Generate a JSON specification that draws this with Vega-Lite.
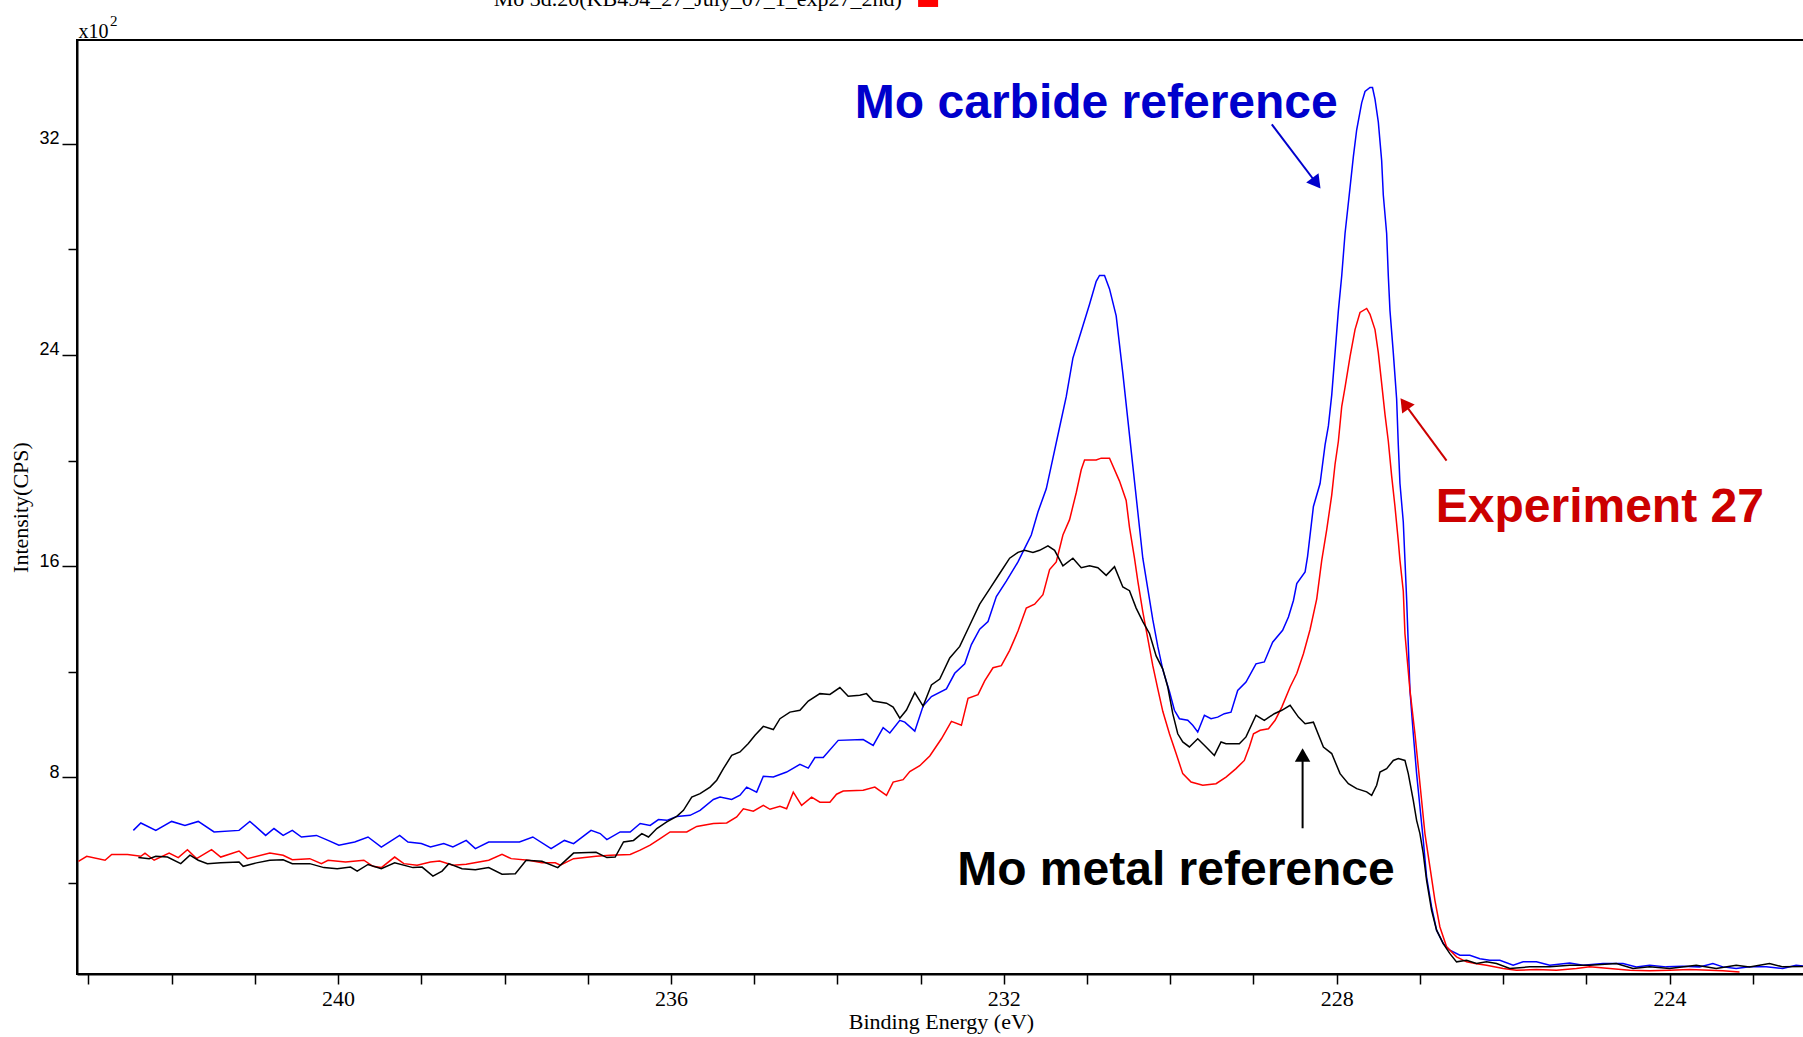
{
"$schema": "https://vega.github.io/schema/vega-lite/v6.json",
"width": 1728, "height": 934,
"autosize": {"type": "none"},
"padding": {"left": 77, "top": 40, "right": 0, "bottom": 63},
"background": "white",
"config": {
 "view": {"stroke": "black", "strokeWidth": 2},
 "axis": {"grid": false, "domainColor": "black", "domainWidth": 2, "tickColor": "black", "tickWidth": 1.5, "labelColor": "black", "titleColor": "black"}
},
"datasets": {
"carbide": [[242.46,5.99],[242.37,6.27],[242.19,5.99],[242.00,6.33],[241.84,6.18],[241.68,6.33],[241.49,5.93],[241.19,5.99],[241.06,6.33],[240.87,5.80],[240.77,6.06],[240.66,5.80],[240.55,5.99],[240.44,5.74],[240.26,5.80],[240.12,5.61],[239.99,5.43],[239.80,5.55],[239.64,5.74],[239.48,5.36],[239.26,5.80],[239.16,5.55],[239.00,5.49],[238.89,5.36],[238.73,5.49],[238.62,5.36],[238.46,5.61],[238.35,5.30],[238.19,5.55],[237.98,5.55],[237.82,5.55],[237.66,5.74],[237.44,5.30],[237.28,5.61],[237.17,5.49],[236.96,5.99],[236.85,5.87],[236.77,5.64],[236.61,5.93],[236.49,5.93],[236.37,6.25],[236.25,6.18],[236.15,6.40],[236.05,6.37],[235.93,6.52],[235.77,6.56],[235.65,6.75],[235.49,7.16],[235.41,7.25],[235.27,7.16],[235.17,7.32],[235.09,7.63],[234.97,7.44],[234.89,8.04],[234.77,8.01],[234.61,8.20],[234.45,8.49],[234.35,8.35],[234.27,8.75],[234.17,8.75],[233.99,9.40],[233.69,9.43],[233.57,9.21],[233.45,9.88],[233.37,9.68],[233.25,10.16],[233.19,10.09],[233.07,9.75],[232.97,10.70],[232.87,11.06],[232.69,11.35],[232.59,11.94],[232.47,12.30],[232.39,13.03],[232.29,13.61],[232.19,13.90],[232.09,14.85],[231.97,15.43],[231.83,16.16],[231.75,16.67],[231.67,17.18],[231.59,18.05],[231.49,18.93],[231.41,20.09],[231.33,21.26],[231.25,22.42],[231.17,23.88],[231.07,24.90],[230.97,25.92],[230.89,26.79],[230.85,27.01],[230.79,27.01],[230.73,26.50],[230.65,25.48],[230.57,23.30],[230.51,21.55],[230.45,19.80],[230.39,18.05],[230.33,16.30],[230.27,15.14],[230.21,13.97],[230.15,12.96],[230.09,12.08],[230.01,11.25],[229.95,10.54],[229.89,10.22],[229.79,10.16],[229.73,9.97],[229.67,9.72],[229.59,10.35],[229.51,10.22],[229.43,10.28],[229.35,10.41],[229.27,10.47],[229.19,11.29],[229.09,11.61],[228.97,12.30],[228.87,12.37],[228.77,13.12],[228.65,13.57],[228.58,14.07],[228.52,14.70],[228.48,15.34],[228.38,15.78],[228.35,16.37],[228.28,18.26],[228.20,19.13],[228.14,20.59],[228.10,21.31],[228.06,22.48],[228.02,24.08],[227.98,25.68],[227.94,26.99],[227.90,28.60],[227.84,30.34],[227.80,31.51],[227.76,32.53],[227.70,33.55],[227.66,33.98],[227.60,34.13],[227.57,34.13],[227.54,33.69],[227.50,32.82],[227.46,31.36],[227.44,30.05],[227.40,28.60],[227.38,26.99],[227.36,25.68],[227.32,24.08],[227.28,22.33],[227.26,20.59],[227.24,19.13],[227.20,17.67],[227.18,16.22],[227.16,14.76],[227.12,11.30],[227.08,9.65],[227.04,8.14],[227.00,6.88],[226.96,5.62],[226.92,4.23],[226.86,3.09],[226.80,2.21],[226.72,1.70],[226.64,1.45],[226.52,1.26],[226.40,1.26],[226.28,1.13],[226.16,1.07],[226.04,1.07],[225.88,0.88],[225.76,1.01],[225.60,1.01],[225.44,0.88],[225.20,0.97],[225.04,0.88],[224.80,0.95],[224.56,0.95],[224.40,0.82],[224.24,0.88],[224.04,0.82],[223.84,0.84],[223.64,0.82],[223.48,0.95],[223.36,0.82],[223.20,0.76],[223.04,0.82],[222.84,0.82],[222.64,0.76],[222.48,0.88],[222.37,0.84]],
"exp27": [[243.12,4.82],[243.02,5.01],[242.80,4.86],[242.72,5.08],[242.53,5.08],[242.37,5.01],[242.32,5.13],[242.21,4.86],[242.03,5.13],[241.92,4.96],[241.81,5.26],[241.70,4.92],[241.52,5.26],[241.41,4.98],[241.19,5.21],[241.09,4.92],[240.82,5.13],[240.66,5.05],[240.55,4.88],[240.34,4.92],[240.20,4.73],[240.12,4.86],[239.91,4.79],[239.69,4.86],[239.58,4.63],[239.48,4.58],[239.32,4.98],[239.21,4.73],[239.05,4.67],[238.89,4.79],[238.78,4.83],[238.62,4.67],[238.46,4.71],[238.19,4.86],[238.03,5.08],[237.92,4.92],[237.71,4.86],[237.55,4.76],[237.39,4.76],[237.33,4.67],[237.17,4.92],[236.90,5.01],[236.73,5.05],[236.49,5.08],[236.37,5.24],[236.25,5.43],[236.13,5.68],[236.01,5.93],[235.81,5.93],[235.69,6.14],[235.49,6.25],[235.33,6.27],[235.21,6.50],[235.13,6.81],[235.01,6.72],[234.89,6.94],[234.81,6.79],[234.69,6.90],[234.61,6.81],[234.53,7.44],[234.43,6.94],[234.31,7.25],[234.21,7.06],[234.09,7.06],[234.01,7.36],[233.93,7.48],[233.69,7.51],[233.55,7.63],[233.41,7.32],[233.33,7.82],[233.21,7.91],[233.13,8.22],[233.01,8.44],[232.89,8.81],[232.75,9.46],[232.63,10.12],[232.51,9.97],[232.43,10.99],[232.31,11.13],[232.23,11.65],[232.13,12.15],[232.03,12.23],[231.93,12.81],[231.83,13.54],[231.73,14.41],[231.63,14.56],[231.53,14.92],[231.45,15.87],[231.37,16.16],[231.29,17.18],[231.21,17.76],[231.13,18.78],[231.07,19.65],[231.03,20.02],[230.89,20.02],[230.83,20.09],[230.73,20.09],[230.61,19.22],[230.53,18.49],[230.49,17.47],[230.43,16.30],[230.39,15.43],[230.33,14.27],[230.27,13.25],[230.21,12.23],[230.15,11.35],[230.09,10.50],[230.01,9.65],[229.93,8.90],[229.85,8.14],[229.75,7.82],[229.61,7.70],[229.45,7.76],[229.33,8.01],[229.21,8.33],[229.11,8.64],[229.05,9.15],[229.00,9.65],[228.92,9.78],[228.82,9.84],[228.74,10.16],[228.66,10.66],[228.56,11.42],[228.48,11.93],[228.40,12.68],[228.32,13.60],[228.24,14.76],[228.18,16.22],[228.12,17.38],[228.06,18.69],[228.02,19.86],[227.98,20.73],[227.94,22.04],[227.90,22.77],[227.84,23.94],[227.78,24.96],[227.72,25.61],[227.64,25.76],[227.60,25.54],[227.54,24.96],[227.50,24.08],[227.46,22.92],[227.42,21.75],[227.38,20.73],[227.34,19.42],[227.30,18.26],[227.26,16.95],[227.24,16.22],[227.20,15.05],[227.18,13.44],[227.12,11.30],[227.06,9.65],[227.02,8.39],[226.98,7.13],[226.94,5.87],[226.88,4.61],[226.82,3.34],[226.76,2.33],[226.68,1.58],[226.56,1.20],[226.44,1.01],[226.32,0.94],[226.20,0.88],[226.00,0.76],[225.84,0.69],[225.60,0.72],[225.36,0.69],[225.12,0.76],[224.96,0.82],[224.72,0.76],[224.48,0.69],[224.24,0.67],[224.00,0.69],[223.76,0.72],[223.52,0.69],[223.36,0.67],[223.16,0.63]],
"metal": [[242.40,4.96],[242.27,4.92],[242.19,5.01],[242.05,4.98],[241.89,4.73],[241.78,5.05],[241.68,4.86],[241.57,4.73],[241.41,4.76],[241.19,4.79],[241.14,4.63],[240.98,4.76],[240.82,4.86],[240.66,4.88],[240.55,4.73],[240.34,4.73],[240.17,4.58],[240.01,4.54],[239.85,4.60],[239.77,4.45],[239.64,4.70],[239.48,4.54],[239.32,4.76],[239.10,4.58],[238.99,4.60],[238.86,4.26],[238.75,4.45],[238.67,4.73],[238.51,4.54],[238.35,4.50],[238.19,4.58],[238.03,4.33],[237.87,4.35],[237.74,4.86],[237.55,4.82],[237.36,4.58],[237.17,5.13],[236.90,5.16],[236.77,4.96],[236.67,4.98],[236.57,5.55],[236.45,5.61],[236.35,5.87],[236.27,5.74],[236.17,6.06],[236.05,6.31],[235.93,6.52],[235.85,6.75],[235.75,7.25],[235.65,7.38],[235.53,7.63],[235.45,7.89],[235.37,8.33],[235.27,8.83],[235.17,8.96],[235.07,9.28],[234.99,9.59],[234.89,9.93],[234.77,9.81],[234.69,10.22],[234.57,10.47],[234.45,10.54],[234.35,10.89],[234.21,11.17],[234.09,11.14],[233.97,11.40],[233.87,11.07],[233.73,11.11],[233.65,11.17],[233.57,10.89],[233.41,10.81],[233.33,10.66],[233.25,10.24],[233.17,10.55],[233.07,11.21],[232.97,10.70],[232.87,11.50],[232.77,11.72],[232.65,12.52],[232.53,12.96],[232.41,13.76],[232.29,14.56],[232.17,15.14],[232.05,15.72],[231.93,16.30],[231.83,16.52],[231.75,16.60],[231.65,16.52],[231.57,16.60],[231.47,16.77],[231.39,16.60],[231.29,16.01],[231.17,16.30],[231.07,15.94],[230.97,16.01],[230.87,15.94],[230.77,15.65],[230.67,15.98],[230.57,15.21],[230.49,15.07],[230.41,14.41],[230.33,13.90],[230.25,13.45],[230.17,12.60],[230.09,12.10],[230.03,11.42],[229.97,10.41],[229.91,9.65],[229.85,9.34],[229.77,9.15],[229.67,9.46],[229.57,9.15],[229.47,8.83],[229.39,9.34],[229.33,9.27],[229.17,9.27],[229.09,9.53],[228.97,10.35],[228.87,10.16],[228.75,10.41],[228.66,10.54],[228.56,10.73],[228.46,10.28],[228.38,10.03],[228.28,10.09],[228.16,9.15],[228.06,8.90],[227.96,8.14],[227.86,7.76],[227.76,7.57],[227.64,7.45],[227.58,7.32],[227.52,7.70],[227.48,8.20],[227.40,8.33],[227.32,8.64],[227.26,8.71],[227.18,8.64],[227.14,8.14],[227.08,7.13],[227.04,6.37],[227.00,5.87],[226.96,5.11],[226.92,4.10],[226.86,2.96],[226.80,2.21],[226.72,1.70],[226.64,1.32],[226.56,1.01],[226.44,1.07],[226.32,0.95],[226.20,1.01],[226.08,0.95],[225.92,0.76],[225.68,0.82],[225.44,0.82],[225.20,0.88],[224.96,0.88],[224.64,0.95],[224.44,0.76],[224.24,0.82],[224.00,0.76],[223.68,0.88],[223.44,0.76],[223.20,0.88],[223.04,0.82],[222.80,0.95],[222.64,0.82],[222.37,0.84]],
"labels": [
 {"series": "carbide", "label": "Mo carbide reference", "be": 233.79, "cps": 32.97},
 {"series": "exp27", "label": "Experiment 27", "be": 226.81, "cps": 17.69},
 {"series": "metal", "label": "Mo metal reference", "be": 232.56, "cps": 3.91}
],
"arrows": [
 {"series": "carbide", "be": 228.78, "cps": 32.73, "be_tip": 228.26, "cps_tip": 30.57},
 {"series": "exp27", "be": 226.68, "cps": 20.0, "be_tip": 227.17, "cps_tip": 22.09},
 {"series": "metal", "be": 228.41, "cps": 6.07, "be_tip": 228.41, "cps_tip": 8.76}
],
"captions": [
 {"kind": "title", "label": "Mo 3d.20(KB494_27_July_07_1_exp27_2nd)", "be": 238.13, "cps": 37.22},
 {"kind": "unit", "label": "x10", "be": 243.12, "cps": 36.0},
 {"kind": "exp", "label": "2", "be": 242.74, "cps": 36.46}
],
"swatch": [{"be": 232.91, "cps": 37.56}]
},
"layer": [
 {
  "data": {"name": "carbide"},
  "transform": [{"calculate": "datum[0]", "as": "be"}, {"calculate": "datum[1]", "as": "cps"}],
  "mark": {"type": "line", "strokeWidth": 1.5, "clip": true, "color": "#0000FF"},
  "encoding": {
   "x": {"field": "be", "type": "quantitative",
    "scale": {"domain": [222.373, 243.137], "reverse": true, "nice": false, "zero": false},
    "axis": {"title": "Binding Energy (eV)", "values": [223,224,225,226,227,228,229,230,231,232,233,234,235,236,237,238,239,240,241,242,243],
     "format": "d", "labelExpr": "datum.value % 4 === 0 ? datum.label : ''", "tickSize": 10, "labelPadding": 4,
     "labelFont": "Liberation Serif", "labelFontSize": 22, "labelOverlap": false, "labelFlush": false,
     "titleFont": "Liberation Serif", "titleFontSize": 22, "titleFontWeight": "normal", "titlePadding": 2}},
   "y": {"field": "cps", "type": "quantitative",
    "scale": {"domain": [0.55, 35.93], "nice": false, "zero": false},
    "axis": {"title": "Intensity(CPS)", "values": [4,8,12,16,20,24,28,32], "format": "d",
     "labelExpr": "datum.value % 8 === 0 ? datum.label : ''",
     "tickSize": {"condition": {"test": "datum.value % 8 === 0", "value": 15}, "value": 9},
     "labelPadding": 3, "labelFont": "Liberation Sans", "labelFontSize": 18, "labelBaseline": "alphabetic",
     "titleFont": "Liberation Serif", "titleFontSize": 22, "titleFontWeight": "normal", "titlePadding": 6}}
  }
 },
 {
  "data": {"name": "exp27"},
  "transform": [{"calculate": "datum[0]", "as": "be"}, {"calculate": "datum[1]", "as": "cps"}],
  "mark": {"type": "line", "strokeWidth": 1.5, "clip": true, "color": "#FF0000"},
  "encoding": {"x": {"field": "be", "type": "quantitative"}, "y": {"field": "cps", "type": "quantitative"}}
 },
 {
  "data": {"name": "metal"},
  "transform": [{"calculate": "datum[0]", "as": "be"}, {"calculate": "datum[1]", "as": "cps"}],
  "mark": {"type": "line", "strokeWidth": 1.5, "clip": true, "color": "#000000"},
  "encoding": {"x": {"field": "be", "type": "quantitative"}, "y": {"field": "cps", "type": "quantitative"}}
 },
 {
  "data": {"name": "arrows"},
  "mark": {"type": "rule", "strokeWidth": 2},
  "encoding": {
   "x": {"field": "be", "type": "quantitative"}, "y": {"field": "cps", "type": "quantitative"},
   "x2": {"field": "be_tip"}, "y2": {"field": "cps_tip"},
   "color": {"field": "series", "type": "nominal", "scale": {"domain": ["carbide", "exp27", "metal"], "range": ["#0000CC", "#CC0000", "#000000"]}, "legend": null}
  }
 },
 {
  "data": {"name": "arrows"},
  "transform": [{"filter": "datum.series === 'carbide'"}],
  "mark": {"type": "point", "shape": "triangle", "filled": true, "size": 240, "angle": 142.8, "color": "#0000CC", "opacity": 1},
  "encoding": {"x": {"field": "be_tip", "type": "quantitative"}, "y": {"field": "cps_tip", "type": "quantitative"}}
 },
 {
  "data": {"name": "arrows"},
  "transform": [{"filter": "datum.series === 'exp27'"}],
  "mark": {"type": "point", "shape": "triangle", "filled": true, "size": 240, "angle": -36.3, "color": "#CC0000", "opacity": 1},
  "encoding": {"x": {"field": "be_tip", "type": "quantitative"}, "y": {"field": "cps_tip", "type": "quantitative"}}
 },
 {
  "data": {"name": "arrows"},
  "transform": [{"filter": "datum.series === 'metal'"}],
  "mark": {"type": "point", "shape": "triangle", "filled": true, "size": 240, "angle": 0, "color": "#000000", "opacity": 1},
  "encoding": {"x": {"field": "be_tip", "type": "quantitative"}, "y": {"field": "cps_tip", "type": "quantitative"}}
 },
 {
  "data": {"name": "labels"},
  "mark": {"type": "text", "align": "left", "baseline": "alphabetic", "font": "Liberation Sans", "fontSize": 48, "fontWeight": "bold"},
  "encoding": {
   "x": {"field": "be", "type": "quantitative"}, "y": {"field": "cps", "type": "quantitative"},
   "text": {"field": "label"},
   "color": {"field": "series", "type": "nominal", "scale": {"domain": ["carbide", "exp27", "metal"], "range": ["#0000CC", "#CC0000", "#000000"]}, "legend": null}
  }
 },
 {
  "data": {"name": "captions"},
  "transform": [{"filter": "datum.kind === 'title'"}],
  "mark": {"type": "text", "align": "left", "baseline": "alphabetic", "font": "Liberation Serif", "fontSize": 22, "color": "#000000"},
  "encoding": {"x": {"field": "be", "type": "quantitative"}, "y": {"field": "cps", "type": "quantitative"}, "text": {"field": "label"}}
 },
 {
  "data": {"name": "captions"},
  "transform": [{"filter": "datum.kind === 'unit'"}],
  "mark": {"type": "text", "align": "left", "baseline": "alphabetic", "font": "Liberation Serif", "fontSize": 20, "color": "#000000"},
  "encoding": {"x": {"field": "be", "type": "quantitative"}, "y": {"field": "cps", "type": "quantitative"}, "text": {"field": "label"}}
 },
 {
  "data": {"name": "captions"},
  "transform": [{"filter": "datum.kind === 'exp'"}],
  "mark": {"type": "text", "align": "left", "baseline": "alphabetic", "font": "Liberation Serif", "fontSize": 15, "color": "#000000"},
  "encoding": {"x": {"field": "be", "type": "quantitative"}, "y": {"field": "cps", "type": "quantitative"}, "text": {"field": "label"}}
 },
 {
  "data": {"name": "swatch"},
  "mark": {"type": "point", "shape": "square", "filled": true, "size": 400, "color": "#FF0000", "opacity": 1},
  "encoding": {"x": {"field": "be", "type": "quantitative"}, "y": {"field": "cps", "type": "quantitative"}}
 }
]
}
